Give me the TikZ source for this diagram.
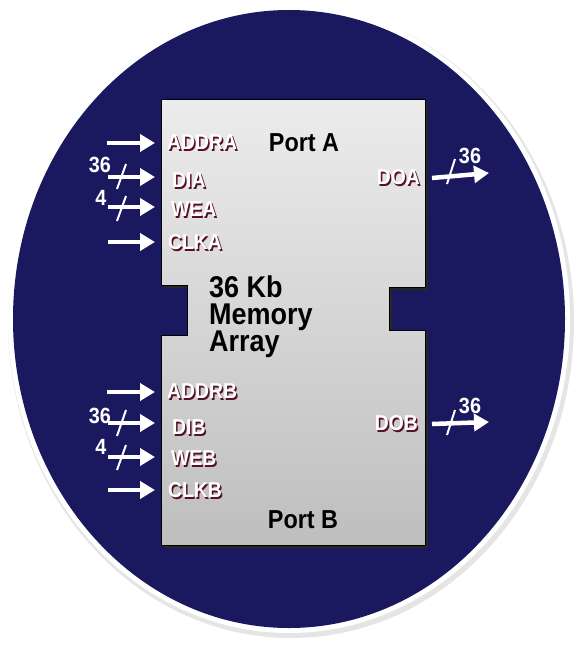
\documentclass[tikz,border=0pt]{standalone}
\usepackage{fontspec}
\setmainfont{Liberation Sans}[FakeStretch=0.9]
\usetikzlibrary{arrows.meta}
\definecolor{navy}{RGB}{26,25,96}
\definecolor{lblshadow}{RGB}{90,16,36}
\definecolor{blocktop}{RGB}{236,236,236}
\definecolor{blockbot}{RGB}{190,190,190}
\newcommand\shd[1]{\leavevmode\rlap{\kern1.5pt\raisebox{-1.5pt}{\color{lblshadow}#1}}#1}
\tikzset{
  pin/.style={anchor=west,inner sep=0pt,text=white,font=\bfseries\fontsize{21.5}{21.5}\selectfont},
  numlbl/.style={inner sep=0pt,text=white,font=\bfseries\fontsize{22}{22}\selectfont},
  porttxt/.style={inner sep=0pt,text=black,font=\bfseries\fontsize{26}{26}\selectfont},
  memtxt/.style={anchor=base west,inner sep=0pt,text height=21pt,text depth=5pt,text=black,font=\bfseries\fontsize{30}{30}\selectfont},
  sigarrow/.style={draw=white,line width=4.5pt,-{Triangle[length=15pt,width=17pt]}},
  busmark/.style={draw=white,line width=2pt},
}
\begin{document}
\begin{tikzpicture}[x=1pt,y=-1pt]
\useasboundingbox (0,0) rectangle (578,647);
% outer disc: shadow, white rim, navy fill
\fill[black!10] (291,322) ellipse [x radius=283, y radius=316];
\fill[white] (289,319) ellipse [x radius=281, y radius=314];
\fill[navy] (289,319) ellipse [x radius=276, y radius=309];
% block shadow
\fill[black!85,shift={(3,3)}] (161,100) -- (425,100) -- (425,287) -- (389,287) -- (389,330) -- (425,330) -- (425,545) -- (161,545) -- (161,335) -- (187,335) -- (187,285) -- (161,285) -- cycle;
% block
\shade[top color=blocktop,bottom color=blockbot,draw=black,line width=1pt] (161,100) -- (425,100) -- (425,287) -- (389,287) -- (389,330) -- (425,330) -- (425,545) -- (161,545) -- (161,335) -- (187,335) -- (187,285) -- (161,285) -- cycle;
% titles
\node[porttxt] (porta) at (304,143) {Port A};
\node[porttxt] (portb) at (303,520) {Port B};
\node[memtxt] (mem1) at (209,297) {36 Kb};
\node[memtxt] (mem2) at (209,324) {Memory};
\node[memtxt] (mem3) at (209,351) {Array};
% port A pins
\node[pin] (addra) at (167,143) {\shd{ADDRA}};
\node[pin] (dia) at (172,181) {\shd{DIA}};
\node[pin] (wea) at (171,210) {\shd{WEA}};
\node[pin] (clka) at (168,243) {\shd{CLKA}};
\node[pin,anchor=east] (doa) at (420,178) {\shd{DOA}};
% port B pins
\node[pin] (addrb) at (167,392) {\shd{ADDRB}};
\node[pin] (dib) at (172,428) {\shd{DIB}};
\node[pin] (web) at (171,459) {\shd{WEB}};
\node[pin] (clkb) at (168,491) {\shd{CLKB}};
\node[pin,anchor=east] (dob) at (418,424) {\shd{DOB}};
% arrow coordinates
\coordinate (sa1) at (107,143); \coordinate (ea1) at (155,143);
\coordinate (sa2) at (108,177); \coordinate (ea2) at (155,177);
\coordinate (sa3) at (108,207); \coordinate (ea3) at (155,207);
\coordinate (sa4) at (108,242); \coordinate (ea4) at (155,242);
\coordinate (sb1) at (107,392); \coordinate (eb1) at (155,392);
\coordinate (sb2) at (108,423); \coordinate (eb2) at (155,423);
\coordinate (sb3) at (108,457); \coordinate (eb3) at (155,457);
\coordinate (sb4) at (108,490); \coordinate (eb4) at (155,490);
\coordinate (oa) at (489,173); \coordinate (ob) at (489,422);
\draw[sigarrow] (sa1) -- (ea1);
\draw[sigarrow] (sa2) -- (ea2);
\draw[sigarrow] (sa3) -- (ea3);
\draw[sigarrow] (sa4) -- (ea4);
\draw[sigarrow] (sb1) -- (eb1);
\draw[sigarrow] (sb2) -- (eb2);
\draw[sigarrow] (sb3) -- (eb3);
\draw[sigarrow] (sb4) -- (eb4);
\draw[sigarrow] ([xshift=12pt]doa.east) -- (oa);
\draw[sigarrow] ([xshift=14pt]dob.east) -- (ob);
% bus marks
\coordinate (ma1) at (117,189); \coordinate (ma2) at (126,164);
\coordinate (mb1) at (117,221); \coordinate (mb2) at (126,196);
\coordinate (mc1) at (117,436); \coordinate (mc2) at (126,410);
\coordinate (md1) at (117,470); \coordinate (md2) at (126,445);
\coordinate (me1) at (447,184); \coordinate (me2) at (455,159);
\coordinate (mf1) at (447,435); \coordinate (mf2) at (455,410);
\draw[busmark] (ma1) -- (ma2);
\draw[busmark] (mb1) -- (mb2);
\draw[busmark] (mc1) -- (mc2);
\draw[busmark] (md1) -- (md2);
\draw[busmark] (me1) -- (me2);
\draw[busmark] (mf1) -- (mf2);
% bus widths
\node[numlbl] (wdia) at (100,165) {36};
\node[numlbl] (wwea) at (101,198) {4};
\node[numlbl] (wdib) at (100,416) {36};
\node[numlbl] (wweb) at (101,447) {4};
\node[numlbl] (wdoa) at (470,156) {36};
\node[numlbl] (wdob) at (470,406) {36};
\end{tikzpicture}
\end{document}
